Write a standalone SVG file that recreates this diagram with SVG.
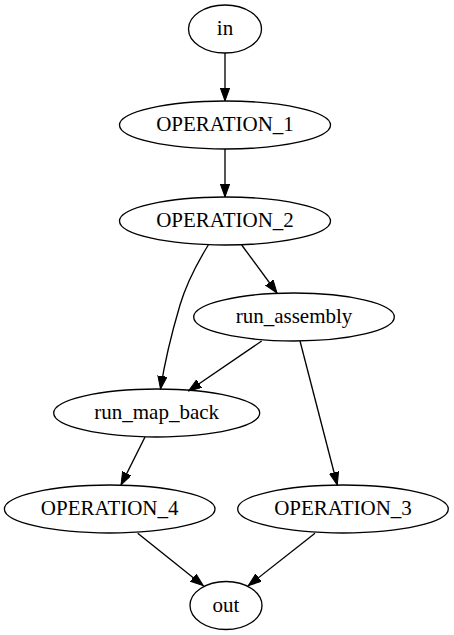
<svg xmlns="http://www.w3.org/2000/svg" width="454" height="635" viewBox="0 0 454 635">
<style>
.n ellipse{fill:none;stroke:#000;stroke-width:1.33}
.n text{font-family:"Liberation Serif","Times New Roman",serif;font-size:21px;text-anchor:middle;fill:#000}
.e path{fill:none;stroke:#000;stroke-width:1.33}
</style>
<defs>
<marker id="ah" markerUnits="userSpaceOnUse" markerWidth="14" markerHeight="10" refX="13" refY="4.67" orient="auto">
<path d="M0,0 L13,4.67 L0,9.33 Z" fill="#000" stroke="#000" stroke-width="1"/>
</marker>
</defs>
<rect width="454" height="635" fill="#fff"/>
<g class="e" id="edges">
<path d="M225,53 L225,101" marker-end="url(#ah)"/>
<path d="M225,149 L225,197" marker-end="url(#ah)"/>
<path d="M241.7,245 L277,293" marker-end="url(#ah)"/>
<path d="M208.3,245 C196,265 186,285 180,305 C172,332 165,360 160.5,389" marker-end="url(#ah)"/>
<path d="M261.7,341 L188.5,391" marker-end="url(#ah)"/>
<path d="M300,341 L337.3,485" marker-end="url(#ah)"/>
<path d="M145,437 L121,485" marker-end="url(#ah)"/>
<path d="M137.7,533.3 L203.3,585.7" marker-end="url(#ah)"/>
<path d="M315,533.3 L248.3,585.7" marker-end="url(#ah)"/>
</g>
<g class="n" id="in"><ellipse cx="225" cy="29" rx="36.5" ry="24"/><text x="225" y="35">in</text></g>
<g class="n" id="OPERATION_1"><ellipse cx="225" cy="125" rx="105.5" ry="24"/><text x="225" y="131">OPERATION_1</text></g>
<g class="n" id="OPERATION_2"><ellipse cx="225" cy="221" rx="105.5" ry="24"/><text x="225" y="227">OPERATION_2</text></g>
<g class="n" id="run_assembly"><ellipse cx="294" cy="317" rx="100.3" ry="24"/><text x="294" y="323">run_assembly</text></g>
<g class="n" id="run_map_back"><ellipse cx="156.7" cy="413" rx="103" ry="24"/><text x="156.7" y="419">run_map_back</text></g>
<g class="n" id="OPERATION_4"><ellipse cx="109.7" cy="509" rx="105.3" ry="24"/><text x="109.7" y="515">OPERATION_4</text></g>
<g class="n" id="OPERATION_3"><ellipse cx="343" cy="509" rx="105.3" ry="24"/><text x="343" y="515">OPERATION_3</text></g>
<g class="n" id="out"><ellipse cx="226" cy="605.5" rx="36" ry="24"/><text x="226" y="611.5">out</text></g>
</svg>
